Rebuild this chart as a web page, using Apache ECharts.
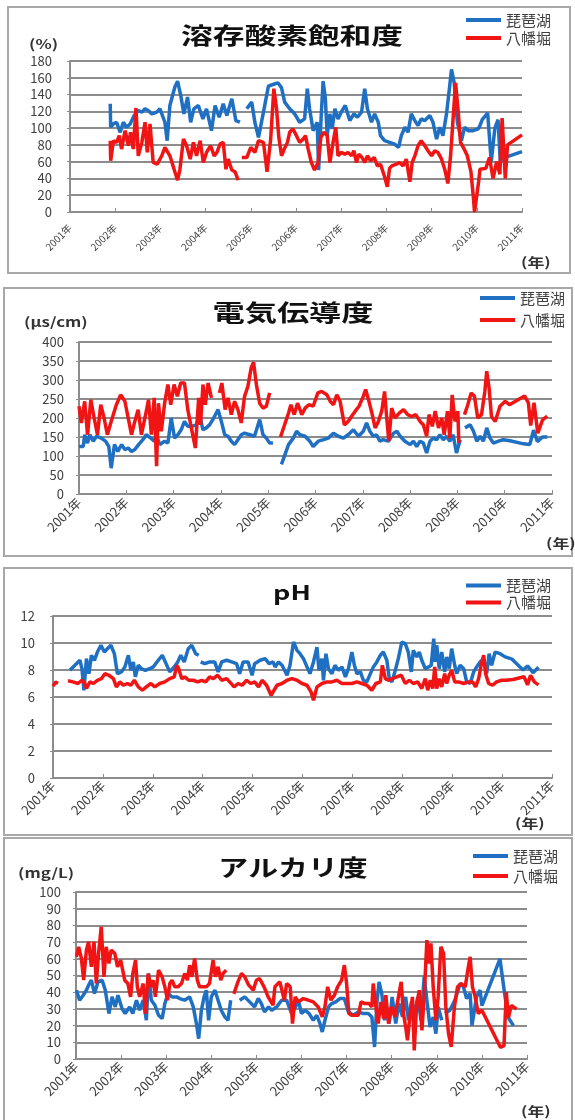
<!DOCTYPE html>
<html>
<head>
<meta charset="utf-8">
<script src="https://cdn.jsdelivr.net/npm/echarts@6/dist/echarts.min.js"></script>
<style>
html, body { margin: 0; padding: 0; background: #fff; }
#chart { width: 575px; height: 1120px; }
</style>
</head>
<body>
<div id="chart"></div>
<script>
// 地点名
const stations = ['琵琶湖', '八幡堀'];
const yearMin = 2001;
const yearMax = 2011;

// 溶存酸素飽和度 (%)  [年, 値]  null = 欠測
const doBiwako = [[2001.89,129],[2001.90,101],[2001.96,105],[2002.03,107],[2002.11,95],[2002.18,107],[2002.25,101],[2002.33,105],[2002.42,115],[2002.51,121],[2002.59,119],[2002.66,123],[2002.73,121],[2002.81,117],[2002.92,119],[2002.99,123],[2003.10,107],[2003.15,85],[2003.21,127],[2003.32,149],[2003.38,156],[2003.45,139],[2003.52,117],[2003.60,137],[2003.67,107],[2003.74,123],[2003.84,127],[2003.94,111],[2004.02,123],[2004.13,97],[2004.21,127],[2004.30,113],[2004.39,129],[2004.47,115],[2004.58,135],[2004.67,109],[2004.76,107],[2004.80,null],[2004.91,123],[2005.02,131],[2005.09,107],[2005.17,89],[2005.28,119],[2005.39,150],[2005.49,152],[2005.60,154],[2005.68,148],[2005.75,131],[2005.86,123],[2005.97,117],[2006.08,107],[2006.19,111],[2006.25,147],[2006.30,123],[2006.38,97],[2006.47,107],[2006.50,50],[2006.56,117],[2006.60,156],[2006.65,135],[2006.69,91],[2006.75,117],[2006.80,99],[2006.86,123],[2006.93,111],[2007.00,119],[2007.09,127],[2007.19,109],[2007.28,117],[2007.36,113],[2007.45,119],[2007.52,147],[2007.58,123],[2007.67,107],[2007.74,117],[2007.82,107],[2007.87,91],[2007.96,85],[2008.07,83],[2008.18,81],[2008.27,77],[2008.33,91],[2008.41,101],[2008.48,95],[2008.55,117],[2008.63,109],[2008.70,103],[2008.77,111],[2008.85,109],[2008.96,115],[2009.03,107],[2009.11,87],[2009.18,101],[2009.25,91],[2009.33,117],[2009.40,150],[2009.44,170],[2009.50,154],[2009.57,107],[2009.66,85],[2009.73,101],[2009.81,97],[2009.92,97],[2010.03,99],[2010.07,103],[2010.12,110],[2010.24,118],[2010.32,60],[2010.40,100],[2010.47,110],[2010.52,60],[2010.63,65],[2011.00,72]];
const doHachiman = [[2001.89,85],[2001.90,61],[2001.96,85],[2002.03,83],[2002.09,91],[2002.14,75],[2002.22,97],[2002.29,79],[2002.34,95],[2002.40,75],[2002.46,124],[2002.51,67],[2002.59,83],[2002.66,107],[2002.71,71],[2002.77,105],[2002.84,59],[2002.93,57],[2003.03,67],[2003.10,77],[2003.21,67],[2003.32,48],[2003.38,38],[2003.43,50],[2003.51,87],[2003.58,79],[2003.66,63],[2003.73,83],[2003.80,67],[2003.88,85],[2003.95,59],[2004.02,71],[2004.11,79],[2004.19,67],[2004.25,71],[2004.32,81],[2004.39,83],[2004.45,51],[2004.50,63],[2004.58,50],[2004.65,48],[2004.72,38],[2004.76,null],[2004.80,65],[2004.91,65],[2005.00,77],[2005.09,71],[2005.17,85],[2005.28,83],[2005.36,48],[2005.44,87],[2005.51,147],[2005.57,123],[2005.62,89],[2005.68,67],[2005.74,75],[2005.81,83],[2005.86,95],[2005.93,99],[2006.01,91],[2006.08,83],[2006.16,87],[2006.21,91],[2006.27,75],[2006.34,59],[2006.41,50],[2006.49,59],[2006.55,89],[2006.62,95],[2006.69,91],[2006.75,59],[2006.82,83],[2006.88,101],[2006.93,67],[2007.00,71],[2007.08,69],[2007.15,71],[2007.23,67],[2007.28,73],[2007.34,59],[2007.39,69],[2007.46,65],[2007.52,59],[2007.58,67],[2007.65,61],[2007.73,65],[2007.80,55],[2007.87,57],[2007.96,42],[2008.02,30],[2008.07,52],[2008.12,55],[2008.22,57],[2008.29,59],[2008.37,55],[2008.44,63],[2008.52,36],[2008.57,59],[2008.63,67],[2008.70,79],[2008.77,85],[2008.85,79],[2008.92,73],[2009.00,67],[2009.07,73],[2009.14,71],[2009.22,63],[2009.29,51],[2009.36,34],[2009.42,67],[2009.47,107],[2009.53,154],[2009.59,119],[2009.64,83],[2009.72,75],[2009.79,67],[2009.87,48],[2009.92,20],[2009.95,0],[2009.99,16],[2010.04,36],[2010.07,51],[2010.20,52],[2010.28,65],[2010.36,40],[2010.44,60],[2010.51,45],[2010.56,112],[2010.63,40],[2010.68,80],[2011.00,92]];

// 電気伝導度 (μs/cm)
const ecBiwako = [[2001.00,125],[2001.09,125],[2001.12,156],[2001.18,134],[2001.23,156],[2001.30,139],[2001.37,152],[2001.47,147],[2001.56,139],[2001.63,125],[2001.68,68],[2001.75,130],[2001.82,112],[2001.90,130],[2001.97,117],[2002.04,121],[2002.11,112],[2002.18,117],[2002.26,130],[2002.35,143],[2002.42,156],[2002.52,147],[2002.59,139],[2002.64,152],[2002.71,130],[2002.81,139],[2002.88,134],[2002.95,200],[2003.02,147],[2003.09,156],[2003.16,169],[2003.23,191],[2003.30,178],[2003.38,178],[2003.48,182],[2003.55,209],[2003.62,169],[2003.69,174],[2003.76,182],[2003.83,196],[2003.94,222],[2004.01,191],[2004.08,156],[2004.15,152],[2004.22,139],[2004.29,130],[2004.36,143],[2004.43,156],[2004.50,160],[2004.61,156],[2004.71,152],[2004.82,196],[2004.89,156],[2004.96,147],[2005.03,134],[2005.10,134],[2005.18,null],[2005.28,78],[2005.43,130],[2005.53,147],[2005.60,165],[2005.67,156],[2005.78,152],[2005.88,139],[2005.95,125],[2006.06,139],[2006.17,143],[2006.27,147],[2006.38,160],[2006.48,152],[2006.59,147],[2006.69,156],[2006.80,169],[2006.91,152],[2007.01,165],[2007.08,187],[2007.15,165],[2007.22,152],[2007.29,156],[2007.36,139],[2007.43,143],[2007.54,139],[2007.65,160],[2007.72,165],[2007.79,152],[2007.89,139],[2008.00,130],[2008.07,139],[2008.14,125],[2008.21,139],[2008.28,134],[2008.35,108],[2008.42,139],[2008.49,147],[2008.56,143],[2008.63,156],[2008.70,143],[2008.77,152],[2008.84,139],[2008.91,156],[2008.98,108],[2009.06,143],[2009.10,null],[2009.16,174],[2009.27,182],[2009.34,165],[2009.41,139],[2009.48,152],[2009.55,139],[2009.62,174],[2009.69,147],[2009.76,134],[2009.87,139],[2009.97,143],[2010.11,140],[2010.40,132],[2010.53,130],[2010.61,168],[2010.69,138],[2010.80,150],[2010.90,150]];
const ecHachiman = [[2001.00,231],[2001.05,187],[2001.12,244],[2001.18,156],[2001.25,248],[2001.32,200],[2001.39,156],[2001.46,235],[2001.53,200],[2001.60,156],[2001.68,191],[2001.79,235],[2001.88,261],[2001.97,244],[2002.04,200],[2002.11,156],[2002.18,191],[2002.25,222],[2002.32,156],[2002.40,204],[2002.47,248],[2002.53,156],[2002.59,253],[2002.64,73],[2002.68,239],[2002.74,165],[2002.81,239],[2002.88,288],[2002.94,235],[2003.01,288],[2003.08,257],[2003.15,292],[2003.23,292],[2003.30,222],[2003.39,165],[2003.46,121],[2003.53,253],[2003.57,182],[2003.62,288],[2003.67,235],[2003.73,292],[2003.80,253],[2003.88,null],[2003.97,266],[2004.02,292],[2004.09,222],[2004.15,253],[2004.22,209],[2004.29,244],[2004.36,222],[2004.43,187],[2004.50,257],[2004.57,283],[2004.64,332],[2004.69,347],[2004.75,288],[2004.82,239],[2004.89,226],[2004.96,231],[2005.03,266],[2005.15,null],[2005.26,150],[2005.43,213],[2005.48,235],[2005.55,209],[2005.62,239],[2005.71,209],[2005.78,226],[2005.86,235],[2005.95,231],[2006.05,266],[2006.13,270],[2006.24,261],[2006.31,244],[2006.38,235],[2006.45,261],[2006.52,244],[2006.61,182],[2006.69,191],[2006.76,204],[2006.84,218],[2006.92,231],[2007.01,257],[2007.06,275],[2007.13,244],[2007.20,209],[2007.26,174],[2007.33,191],[2007.40,218],[2007.46,270],[2007.50,209],[2007.55,139],[2007.61,226],[2007.68,200],[2007.77,213],[2007.86,222],[2007.95,209],[2008.03,204],[2008.12,209],[2008.21,191],[2008.28,182],[2008.35,152],[2008.40,209],[2008.47,178],[2008.53,218],[2008.60,174],[2008.67,200],[2008.72,156],[2008.79,218],[2008.84,147],[2008.89,261],[2008.95,191],[2009.01,218],[2009.03,134],[2009.09,null],[2009.15,209],[2009.22,235],[2009.29,266],[2009.36,257],[2009.43,200],[2009.51,209],[2009.58,270],[2009.62,323],[2009.67,279],[2009.72,204],[2009.80,191],[2009.90,231],[2010.01,244],[2010.10,235],[2010.42,258],[2010.50,240],[2010.55,180],[2010.62,240],[2010.70,160],[2010.80,195],[2010.90,205]];

// pH
const phBiwako = [[2001.34,7.98],[2001.44,8.35],[2001.54,8.72],[2001.58,8.10],[2001.62,6.50],[2001.67,8.84],[2001.72,7.73],[2001.77,9.09],[2001.83,8.72],[2001.89,9.33],[2001.96,9.83],[2002.03,9.33],[2002.09,9.58],[2002.16,9.83],[2002.23,9.21],[2002.29,7.73],[2002.37,7.86],[2002.44,8.23],[2002.51,9.09],[2002.56,7.98],[2002.61,8.60],[2002.65,7.49],[2002.71,8.35],[2002.77,8.10],[2002.85,7.98],[2002.94,8.10],[2003.01,8.23],[2003.11,8.72],[2003.19,9.09],[2003.25,8.60],[2003.34,7.86],[2003.43,8.23],[2003.50,8.60],[2003.56,9.09],[2003.63,8.60],[2003.71,9.58],[2003.78,9.83],[2003.86,9.21],[2003.92,9.09],[2003.94,null],[2003.96,8.60],[2004.04,8.47],[2004.14,8.60],[2004.24,8.60],[2004.31,7.86],[2004.38,8.60],[2004.48,8.72],[2004.58,8.60],[2004.68,8.47],[2004.74,7.73],[2004.81,8.60],[2004.91,8.60],[2004.99,7.61],[2005.04,8.47],[2005.15,8.72],[2005.25,8.84],[2005.33,8.47],[2005.41,8.60],[2005.45,8.23],[2005.52,8.60],[2005.59,8.35],[2005.69,7.61],[2005.75,8.35],[2005.82,10.07],[2005.89,9.46],[2005.95,9.21],[2006.02,8.84],[2006.09,8.23],[2006.15,7.73],[2006.22,8.60],[2006.29,9.70],[2006.33,7.98],[2006.39,8.84],[2006.42,7.24],[2006.47,9.21],[2006.52,8.10],[2006.59,7.73],[2006.65,8.35],[2006.72,7.98],[2006.79,8.23],[2006.86,7.49],[2006.92,8.10],[2006.99,9.33],[2007.04,8.35],[2007.09,7.73],[2007.16,7.86],[2007.22,7.24],[2007.29,7.12],[2007.36,7.73],[2007.42,8.23],[2007.49,8.60],[2007.56,9.09],[2007.62,9.33],[2007.69,8.72],[2007.74,7.36],[2007.79,7.12],[2007.86,7.98],[2007.92,8.84],[2007.99,10.07],[2008.06,9.95],[2008.12,9.33],[2008.18,7.86],[2008.22,9.46],[2008.29,8.97],[2008.34,9.33],[2008.39,8.72],[2008.46,8.10],[2008.53,8.23],[2008.58,8.35],[2008.63,10.32],[2008.66,8.60],[2008.69,9.83],[2008.74,8.10],[2008.79,9.33],[2008.85,7.86],[2008.89,8.97],[2008.94,8.10],[2008.99,9.58],[2009.05,8.35],[2009.09,7.73],[2009.16,8.35],[2009.23,8.10],[2009.29,7.12],[2009.36,7.00],[2009.43,7.86],[2009.49,8.23],[2009.56,8.60],[2009.63,8.84],[2009.69,7.73],[2009.74,9.21],[2009.79,8.35],[2009.86,9.33],[2009.96,9.21],[2010.06,8.97],[2010.20,8.80],[2010.42,8.00],[2010.51,8.30],[2010.62,7.80],[2010.73,8.20]];
const phHachiman = [[2001.00,6.80],[2001.05,7.10],[2001.10,7.00],[2001.20,null],[2001.30,7.20],[2001.40,7.12],[2001.50,7.00],[2001.58,7.24],[2001.64,7.00],[2001.67,6.63],[2001.74,7.12],[2001.81,7.00],[2001.89,7.24],[2001.97,7.36],[2002.04,7.73],[2002.12,7.61],[2002.21,7.36],[2002.27,6.75],[2002.34,7.12],[2002.41,6.87],[2002.49,7.00],[2002.56,6.87],[2002.63,7.24],[2002.71,6.75],[2002.79,6.50],[2002.87,6.75],[2002.96,7.00],[2003.04,6.75],[2003.14,7.00],[2003.24,7.12],[2003.34,7.36],[2003.43,7.49],[2003.48,8.35],[2003.52,8.10],[2003.58,7.36],[2003.64,7.49],[2003.72,7.24],[2003.81,7.24],[2003.90,7.12],[2003.98,7.24],[2004.06,7.12],[2004.14,7.49],[2004.21,7.36],[2004.30,7.61],[2004.38,7.24],[2004.48,7.36],[2004.54,7.12],[2004.63,6.75],[2004.71,7.00],[2004.79,6.87],[2004.88,7.24],[2004.96,7.00],[2005.04,7.12],[2005.12,6.75],[2005.19,7.24],[2005.28,6.87],[2005.37,6.13],[2005.45,6.63],[2005.49,6.87],[2005.59,7.00],[2005.69,7.24],[2005.79,7.36],[2005.89,7.24],[2005.99,7.00],[2006.09,6.87],[2006.17,6.38],[2006.22,5.76],[2006.29,6.75],[2006.39,7.00],[2006.49,7.12],[2006.59,7.12],[2006.69,7.24],[2006.79,7.00],[2006.89,7.00],[2006.99,7.00],[2007.09,7.12],[2007.19,7.00],[2007.29,6.87],[2007.39,6.50],[2007.47,7.00],[2007.56,7.12],[2007.60,8.35],[2007.66,7.36],[2007.72,7.24],[2007.80,7.36],[2007.89,7.49],[2007.98,7.61],[2008.06,7.00],[2008.14,7.24],[2008.22,7.00],[2008.31,7.12],[2008.39,6.63],[2008.46,7.36],[2008.51,6.50],[2008.56,7.24],[2008.61,6.63],[2008.65,8.23],[2008.69,6.63],[2008.74,7.36],[2008.79,6.75],[2008.85,7.73],[2008.89,7.00],[2008.94,7.61],[2008.99,7.98],[2009.05,7.12],[2009.13,7.12],[2009.23,7.00],[2009.33,7.12],[2009.41,7.12],[2009.47,6.75],[2009.53,7.36],[2009.58,8.35],[2009.63,9.09],[2009.67,7.73],[2009.73,7.00],[2009.81,6.87],[2009.89,7.12],[2009.99,7.24],[2010.08,7.24],[2010.22,7.30],[2010.44,7.50],[2010.51,6.90],[2010.57,7.60],[2010.65,7.10],[2010.73,6.90]];

// アルカリ度 (mg/L)
const alkBiwako = [[2001.01,41.2],[2001.08,35.2],[2001.16,38.2],[2001.23,41.2],[2001.28,44.2],[2001.34,47.2],[2001.41,39.2],[2001.49,46.2],[2001.58,47.2],[2001.65,41.2],[2001.73,27.2],[2001.80,37.2],[2001.87,31.2],[2001.93,38.2],[2002.02,30.2],[2002.09,27.2],[2002.19,31.2],[2002.26,27.2],[2002.34,35.2],[2002.41,29.2],[2002.49,35.2],[2002.56,23.2],[2002.61,51.2],[2002.67,35.2],[2002.75,32.2],[2002.83,26.2],[2002.91,24.2],[2002.97,33.2],[2003.04,39.2],[2003.13,37.2],[2003.23,37.2],[2003.30,36.2],[2003.41,35.2],[2003.52,37.2],[2003.60,31.2],[2003.67,21.2],[2003.72,12.2],[2003.78,29.2],[2003.84,37.2],[2003.89,41.2],[2003.94,23.2],[2004.00,37.2],[2004.08,41.2],[2004.15,35.2],[2004.22,29.2],[2004.30,25.2],[2004.37,23.2],[2004.43,35.2],[2004.50,null],[2004.63,35.2],[2004.74,37.2],[2004.85,34.2],[2004.96,31.2],[2005.04,36.2],[2005.11,33.2],[2005.18,28.2],[2005.27,31.2],[2005.34,29.2],[2005.45,31.2],[2005.56,35.2],[2005.67,35.2],[2005.78,27.2],[2005.87,31.2],[2005.93,35.2],[2006.00,27.2],[2006.08,29.2],[2006.17,27.2],[2006.26,23.2],[2006.34,26.2],[2006.41,21.2],[2006.46,16.2],[2006.52,23.2],[2006.60,31.2],[2006.67,33.2],[2006.76,34.2],[2006.85,36.2],[2006.95,36.2],[2007.04,28.2],[2007.15,26.2],[2007.26,28.2],[2007.37,27.2],[2007.48,27.2],[2007.56,25.2],[2007.62,7.2],[2007.67,33.2],[2007.72,46.2],[2007.78,39.2],[2007.84,23.2],[2007.89,31.2],[2007.94,21.2],[2008.01,37.2],[2008.09,21.2],[2008.16,33.2],[2008.24,25.2],[2008.31,37.2],[2008.37,23.2],[2008.44,34.2],[2008.50,27.2],[2008.58,37.2],[2008.65,23.2],[2008.72,49.2],[2008.78,35.2],[2008.85,19.2],[2008.92,25.2],[2008.98,15.2],[2009.03,31.2],[2009.11,23.2],[2009.15,null],[2009.18,27.2],[2009.29,29.2],[2009.40,35.2],[2009.52,45.2],[2009.59,43.2],[2009.66,36.2],[2009.74,39.2],[2009.78,20.0],[2009.88,37.2],[2009.96,41.2],[2010.00,32.0],[2010.40,60.0],[2010.50,40.0],[2010.58,25.0],[2010.70,20.0]];
const alkHachiman = [[2001.01,61.2],[2001.06,67.2],[2001.12,60.2],[2001.17,47.2],[2001.23,65.2],[2001.28,70.2],[2001.34,55.2],[2001.40,70.2],[2001.45,45.2],[2001.50,63.2],[2001.56,79.2],[2001.62,49.2],[2001.67,67.2],[2001.73,57.2],[2001.78,65.2],[2001.86,63.2],[2001.92,55.2],[2001.99,59.2],[2002.08,47.2],[2002.15,45.2],[2002.21,37.2],[2002.26,51.2],[2002.32,59.2],[2002.36,43.2],[2002.41,37.2],[2002.49,45.2],[2002.54,27.2],[2002.60,51.2],[2002.66,43.2],[2002.71,47.2],[2002.76,37.2],[2002.83,53.2],[2002.91,49.2],[2002.97,43.2],[2003.03,35.2],[2003.08,45.2],[2003.13,47.2],[2003.19,43.2],[2003.26,43.2],[2003.34,45.2],[2003.41,51.2],[2003.47,47.2],[2003.52,56.2],[2003.57,49.2],[2003.63,60.2],[2003.69,47.2],[2003.74,43.2],[2003.82,43.2],[2003.89,43.2],[2003.96,45.2],[2004.04,59.2],[2004.09,49.2],[2004.15,55.2],[2004.21,47.2],[2004.26,51.2],[2004.33,53.2],[2004.42,null],[2004.50,39.0],[2004.59,46.2],[2004.67,51.2],[2004.74,49.2],[2004.83,44.2],[2004.93,41.2],[2005.00,47.2],[2005.07,48.2],[2005.17,43.2],[2005.26,37.2],[2005.37,32.2],[2005.41,43.2],[2005.52,46.2],[2005.62,35.2],[2005.67,45.2],[2005.75,43.2],[2005.80,21.2],[2005.86,37.2],[2005.93,34.2],[2006.04,36.2],[2006.15,35.2],[2006.26,34.2],[2006.37,31.2],[2006.46,25.2],[2006.52,31.2],[2006.58,43.2],[2006.65,35.2],[2006.73,38.2],[2006.80,43.2],[2006.89,47.2],[2006.95,56.2],[2007.00,45.2],[2007.05,27.2],[2007.11,26.2],[2007.19,26.2],[2007.26,26.2],[2007.32,34.2],[2007.41,33.2],[2007.50,33.2],[2007.56,31.2],[2007.59,45.2],[2007.65,31.2],[2007.70,21.2],[2007.76,34.2],[2007.82,24.2],[2007.87,38.2],[2007.93,21.2],[2008.00,31.2],[2008.07,25.2],[2008.15,37.2],[2008.21,46.2],[2008.26,27.2],[2008.31,19.2],[2008.35,11.2],[2008.41,27.2],[2008.46,37.2],[2008.50,5.2],[2008.55,31.2],[2008.61,41.2],[2008.67,17.2],[2008.72,37.2],[2008.78,71.2],[2008.83,57.2],[2008.87,69.2],[2008.92,43.2],[2008.98,23.2],[2009.03,37.2],[2009.09,67.2],[2009.15,63.2],[2009.20,31.2],[2009.26,15.2],[2009.32,7.2],[2009.39,31.2],[2009.46,43.2],[2009.54,45.2],[2009.63,43.2],[2009.70,55.2],[2009.74,61.2],[2009.79,43.2],[2009.85,37.2],[2009.92,27.2],[2010.00,29.2],[2010.41,7.0],[2010.49,8.0],[2010.54,40.0],[2010.59,25.0],[2010.65,32.0],[2010.77,30.0]];

const FONT = '"Noto Sans CJK JP", "Noto Sans", sans-serif';
const colors = ['#1f6fc3', '#f01414'];

// 4つのグラフの配置
const panels = [
  { title: '溶存酸素飽和度', titleAt: [292, 35], titleSize: 23, titleScale: 1.38,
    unit: '(%)', unitAt: [29, 44], yearAt: [521, 262],
    grid: { left: 70, top: 61, width: 452, height: 151 }, yMax: 180, yStep: 20,
    yMargin: 18, xMargin: 14, xFont: 10, legend: [466, 11, 0, 18],
    frame: [8, 7, 562, 266], data: [doBiwako, doHachiman] },
  { title: '電気伝導度', titleAt: [293, 312], titleSize: 23, titleScale: 1.4,
    unit: '(μs/cm)', unitAt: [24, 322], yearAt: [546, 543],
    grid: { left: 79, top: 342, width: 473, height: 152 }, yMax: 400, yStep: 50,
    yMargin: 15, xMargin: 6, xFont: 13, legend: [480, 289, 4, 18],
    frame: [4, 288, 568, 268], data: [ecBiwako, ecHachiman] },
  { title: 'pH', titleAt: [292, 592], titleSize: 20, titleScale: 1.35,
    unit: '', unitAt: [0, 0], yearAt: [515, 823],
    grid: { left: 53, top: 616, width: 499, height: 162 }, yMax: 12, yStep: 2,
    yMargin: 18, xMargin: 5, xFont: 13, legend: [466, 577, 0, 17],
    frame: [4, 568, 568, 267], data: [phBiwako, phHachiman] },
  { title: 'アルカリ度', titleAt: [293, 867], titleSize: 23, titleScale: 1.3,
    unit: '(mg/L)', unitAt: [18, 873], yearAt: [521, 1111],
    grid: { left: 76, top: 892, width: 451, height: 167 }, yMax: 100, yStep: 10,
    yMargin: 15, xMargin: 5, xFont: 13, legend: [473, 847, 2, 18],
    frame: [4, 838, 568, 290], data: [alkBiwako, alkHachiman] }
];

const toSeriesData = (arr) => arr.map(p => [p[0], p[1] === null ? '-' : p[1]]);

const grids = [], xAxes = [], yAxes = [], series = [], legends = [], graphics = [];

panels.forEach((p, i) => {
  grids.push(Object.assign({ containLabel: false, outerBoundsMode: 'none' }, p.grid));

  xAxes.push({
    type: 'value', gridIndex: i, min: yearMin, max: yearMax, interval: 1,
    axisLine: { show: true, lineStyle: { color: '#8c8c8c', width: 2 } },
    axisTick: { show: true, inside: true, length: 4, lineStyle: { color: '#8c8c8c' } },
    axisLabel: { rotate: 45, margin: p.xMargin, fontSize: p.xFont, color: '#404040',
      fontFamily: FONT, showMinLabel: true, showMaxLabel: true,
      formatter: v => v + '年' },
    splitLine: { show: false }
  });

  yAxes.push({
    type: 'value', gridIndex: i, min: 0, max: p.yMax, interval: p.yStep,
    axisLine: { show: true, lineStyle: { color: '#8c8c8c', width: 2 } },
    axisTick: { show: true, length: 3, lineStyle: { color: '#8c8c8c' } },
    axisLabel: { margin: p.yMargin, fontSize: 13, color: '#404040', fontFamily: FONT },
    splitLine: { show: true, lineStyle: { color: '#8c8c8c', width: 2 } }
  });

  p.data.forEach((arr, k) => {
    series.push({
      type: 'line', name: stations[k], xAxisIndex: i, yAxisIndex: i,
      data: toSeriesData(arr), showSymbol: false, symbol: 'none',
      connectNulls: false, z: 2 + k,
      lineStyle: { color: colors[k], width: 3.5 }, itemStyle: { color: colors[k] }
    });
  });

  legends.push({
    data: stations, orient: 'vertical', left: p.legend[0], top: p.legend[1],
    itemGap: p.legend[2], padding: 0, icon: 'rect', itemWidth: 35, itemHeight: 4,
    selectedMode: false,
    textStyle: { fontSize: 15, color: '#404040', fontFamily: FONT, lineHeight: p.legend[3] }
  });

  // 枠
  graphics.push({
    type: 'rect', shape: { x: p.frame[0], y: p.frame[1], width: p.frame[2], height: p.frame[3] },
    style: { fill: 'none', stroke: '#a8a8a8', lineWidth: 2 }, silent: true
  });
  // タイトル
  graphics.push({
    type: 'text', x: p.titleAt[0], y: p.titleAt[1], scaleX: p.titleScale,
    style: { text: p.title, fontSize: p.titleSize, fontWeight: 'bold', fontFamily: FONT,
      fill: '#111', align: 'center', verticalAlign: 'middle' }
  });
  if (p.unit) {
    graphics.push({
      type: 'text', x: p.unitAt[0], y: p.unitAt[1], scaleX: 1.3,
      style: { text: p.unit, fontSize: 13, fontWeight: 'bold', fontFamily: FONT,
        fill: '#333', align: 'left', verticalAlign: 'middle' }
    });
  }
  graphics.push({
    type: 'text', x: p.yearAt[0], y: p.yearAt[1], scaleX: 1.3,
    style: { text: '(年)', fontSize: 13, fontWeight: 'bold', fontFamily: FONT,
      fill: '#333', align: 'left', verticalAlign: 'middle' }
  });
});

const chart = echarts.init(document.getElementById('chart'), null, { renderer: 'canvas' });
chart.setOption({
  animation: false,
  backgroundColor: '#fff',
  textStyle: { fontFamily: FONT },
  grid: grids,
  xAxis: xAxes,
  yAxis: yAxes,
  legend: legends,
  series: series,
  graphic: graphics
});
</script>
</body>
</html>
